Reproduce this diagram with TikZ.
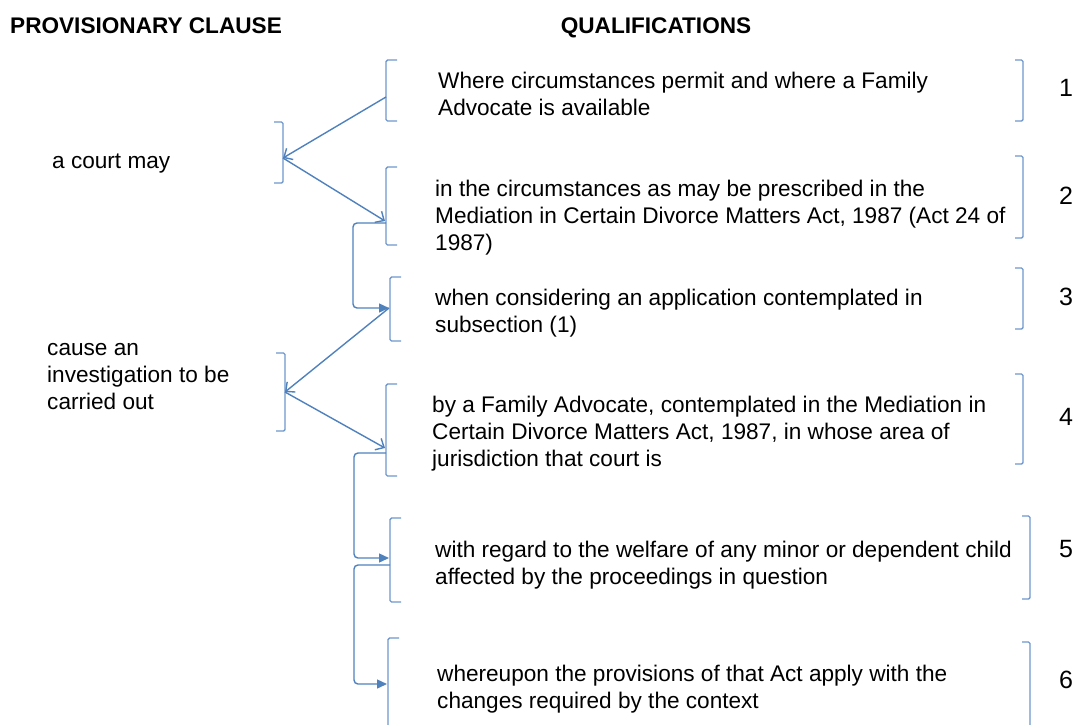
\documentclass[tikz,border=0pt]{standalone}
\usepackage{fontspec}
\setmainfont{Liberation Sans}
\usetikzlibrary{arrows.meta}
\definecolor{conncol}{RGB}{79,129,189}
\definecolor{brkcol}{RGB}{110,150,205}
\begin{document}
\begin{tikzpicture}[x=1pt,y=-1pt,
 txt/.style={anchor=base west,inner sep=0,font=\fontsize{22.6}{27}\selectfont},
 hdr/.style={inner sep=0,font=\fontsize{22.6}{27}\selectfont\bfseries},
 num/.style={anchor=base,inner sep=0,font=\fontsize{25}{27}\selectfont},
 brk/.style={draw=brkcol,line width=1.4pt,rounded corners=1.5pt},
 conn/.style={draw=conncol,line width=1.4pt},
 openarr/.style={conn,-{Straight Barb[length=7pt,width=13pt,line width=1.4pt]}},
 solidarr/.style={conn,rounded corners=4pt,-{Triangle[length=10pt,width=9pt]}}
]
\useasboundingbox (0,0) rectangle (1076,724);

% headers
\node[hdr,anchor=base west] (h1) at (10,33) {PROVISIONARY CLAUSE};
\node[hdr,anchor=base] (h2) at (656,33) {QUALIFICATIONS};

% provisional clause texts (anchored at baseline of last line)
\node[txt] (pa-t) at (52,168) {a court may};
\node[txt,align=left] (pb-t) at (47,409) {cause an\\investigation to be\\carried out};

% qualification texts (anchored at baseline of last line)
\node[txt,align=left] (t1) at (438,115) {Where circumstances permit and where a Family\\Advocate is available};
\node[txt,align=left] (t2) at (435,250) {in the circumstances as may be prescribed in the\\Mediation in Certain Divorce Matters Act, 1987 (Act 24 of\\1987)};
\node[txt,align=left] (t3) at (435,332) {when considering an application contemplated in\\subsection (1)};
\node[txt,align=left] (t4) at (432,466) {by a Family Advocate, contemplated in the Mediation in\\Certain Divorce Matters Act, 1987, in whose area of\\jurisdiction that court is};
\node[txt,align=left] (t5) at (435,584) {with regard to the welfare of any minor or dependent child\\affected by the proceedings in question};
\node[txt,align=left] (t6) at (437,708) {whereupon the provisions of that Act apply with the\\changes required by the context};

% numbers
\node[num] (n1) at (1066,96) {1};
\node[num] (n2) at (1066,204) {2};
\node[num] (n3) at (1066,305) {3};
\node[num] (n4) at (1066,425) {4};
\node[num] (n5) at (1066,557) {5};
\node[num] (n6) at (1066,688) {6};

% left brackets of qualifications
\draw[brk] (397,60) -- (386,60) -- (386,121) -- (397,121);
\draw[brk] (397,167) -- (386,167) -- (386,245) -- (397,245);
\draw[brk] (401,277) -- (390,277) -- (390,341) -- (401,341);
\draw[brk] (397,384) -- (386,384) -- (386,476) -- (397,476);
\draw[brk] (401,518) -- (390,518) -- (390,602) -- (401,602);
\draw[brk] (399,638) -- (388,638) -- (388,740);

% right brackets of qualifications
\draw[brk] (1015,60) -- (1023,60) -- (1023,121) -- (1015,121);
\draw[brk] (1015,156) -- (1023,156) -- (1023,238) -- (1015,238);
\draw[brk] (1015,268) -- (1023,268) -- (1023,329) -- (1015,329);
\draw[brk] (1015,374) -- (1023,374) -- (1023,464) -- (1015,464);
\draw[brk] (1022,516) -- (1030,516) -- (1030,599) -- (1022,599);
\draw[brk] (1022,642) -- (1030,642) -- (1030,740);

% provisional clause brackets
\draw[brk] (274,122) -- (283,122) -- (283,183) -- (274,183);
\draw[brk] (276,353) -- (285,353) -- (285,431) -- (276,431);

% connector points
\coordinate (q1) at (386,97);
\coordinate (pa) at (283,158);
\coordinate (q2) at (385,221);
\coordinate (q2s) at (386,223);
\coordinate (e1) at (353,223);
\coordinate (q3) at (389,308);
\coordinate (pb) at (285,392);
\coordinate (q4) at (385,448);
\coordinate (q4s) at (386,453);
\coordinate (e2) at (354,453);
\coordinate (q5) at (389,558);
\coordinate (q5s) at (390,565);
\coordinate (e3) at (354,565);
\coordinate (q6) at (387,684);

% connectors
\draw[openarr] (q1) -- (pa);
\draw[openarr] (pa) -- (q2);
\draw[solidarr] (q2s) -- (e1) |- (q3);
\draw[openarr] (q3) -- (pb);
\draw[openarr] (pb) -- (q4);
\draw[solidarr] (q4s) -- (e2) |- (q5);
\draw[solidarr] (q5s) -- (e3) |- (q6);
\end{tikzpicture}
\end{document}
